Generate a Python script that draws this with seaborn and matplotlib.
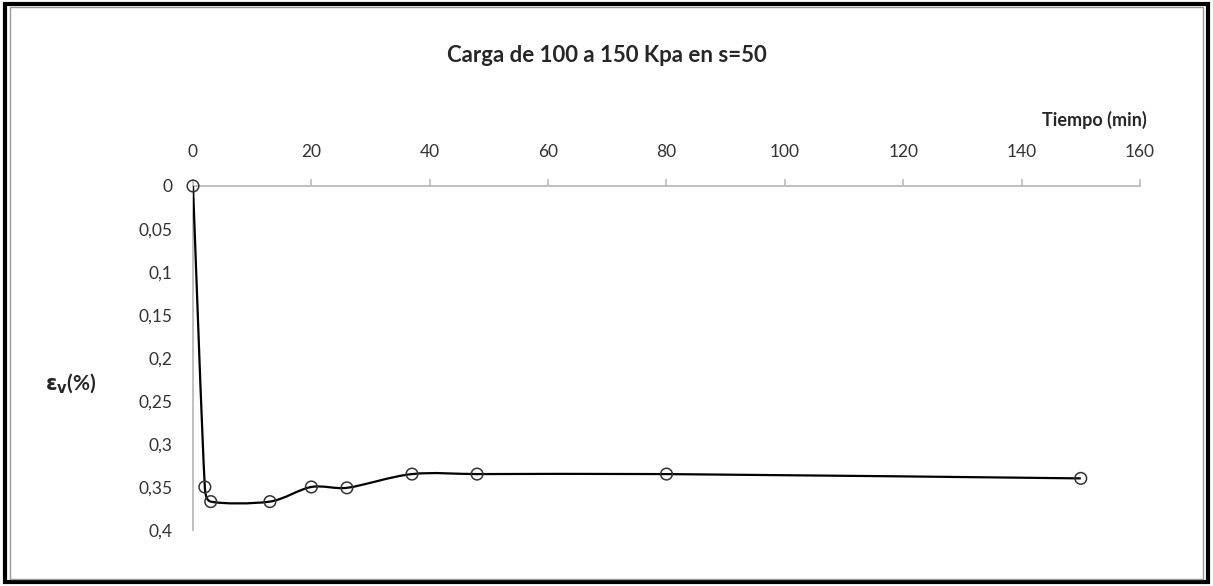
import numpy as np
import pandas as pd
import matplotlib
matplotlib.use("Agg")
import matplotlib.pyplot as plt
from matplotlib.path import Path
from matplotlib.patches import PathPatch, Rectangle
import seaborn as sns

# values
tiempo = [0, 2, 3, 13, 20, 26, 37, 48, 80, 150]
deformacion = [0, 0.35, 0.367, 0.367, 0.35, 0.351, 0.335, 0.335, 0.335, 0.34]
x_ticks = [0, 20, 40, 60, 80, 100, 120, 140, 160]
y_ticks = [0, 0.05, 0.1, 0.15, 0.2, 0.25, 0.3, 0.35, 0.4]
y_labels = ["0", "0,05", "0,1", "0,15", "0,2", "0,25", "0,3", "0,35", "0,4"]

df = pd.DataFrame({"t": tiempo, "ev": deformacion})

sns.set_style("white")
plt.rcParams["font.family"] = ["Lato", "DejaVu Sans"]

fig = plt.figure(figsize=(12.13, 5.86), dpi=100)
ax = fig.add_axes([0.1591, 0.0956, 0.7807, 0.587])
ax.set_xlim(0, 160)
ax.set_ylim(0.4, 0)

# smoothed line (Excel-style) through the points, built in screen space
pts = ax.transData.transform(df[["t", "ev"]].to_numpy(dtype=float))
verts = [pts[0]]
codes = [Path.MOVETO]
n = len(pts)
for i in range(n - 1):
    p0 = pts[i - 1] if i > 0 else pts[i]
    p1, p2 = pts[i], pts[i + 1]
    p3 = pts[i + 2] if i + 2 < n else pts[i + 1]
    seg = np.linalg.norm(p2 - p1)
    t1 = (p2 - p0) / 6
    t2 = (p3 - p1) / 6
    lim = seg / 3
    if np.linalg.norm(t1) > lim:
        t1 = t1 / np.linalg.norm(t1) * lim
    if np.linalg.norm(t2) > lim:
        t2 = t2 / np.linalg.norm(t2) * lim
    verts += [p1 + t1, p2 - t2, p2]
    codes += [Path.CURVE4] * 3
verts = ax.transData.inverted().transform(np.array(verts))
ax.add_patch(PathPatch(Path(verts, codes), fill=False, lw=1.6, ec="black", zorder=3))

sns.scatterplot(data=df, x="t", y="ev", ax=ax, marker="o", s=70,
                facecolor="none", edgecolor="#333333", linewidth=1.1, zorder=4,
                clip_on=False)

ax.xaxis.tick_top()
ax.set_xticks(x_ticks)
ax.set_yticks(y_ticks)
ax.set_yticklabels(y_labels)
ax.tick_params(axis="x", direction="out", length=5, color="#bbbbbb", width=1.2,
               labelsize=12.5, labelcolor="#333333", pad=14)
ax.tick_params(axis="y", direction="out", length=5, color="#bbbbbb", width=1.2,
               labelsize=12.5, labelcolor="#333333", pad=10)
ax.set_xlabel("")
ax.set_ylabel("")
for side in ["bottom", "right"]:
    ax.spines[side].set_visible(False)
for side in ["top", "left"]:
    ax.spines[side].set_color("#bbbbbb")
    ax.spines[side].set_linewidth(1.3)

fig.text(0.5, 0.905, "Carga de 100 a 150 Kpa en s=50", ha="center", va="center",
         fontsize=16, fontweight="bold")
fig.text(0.945, 0.795, "Tiempo (min)", ha="right", va="center",
         fontsize=13, fontweight="bold")
fig.text(0.037, 0.345, r"$\mathbf{\epsilon_v}$(%)", ha="left", va="center",
         fontsize=15, fontweight="bold")

# outer frame
fig.patches.append(Rectangle((0.004, 0.006), 0.992, 0.988, transform=fig.transFigure,
                             fill=False, ec="black", lw=3))
fig.patches.append(Rectangle((0.008, 0.012), 0.984, 0.976, transform=fig.transFigure,
                             fill=False, ec="#999999", lw=1))

plt.savefig("out.png", dpi=100)
